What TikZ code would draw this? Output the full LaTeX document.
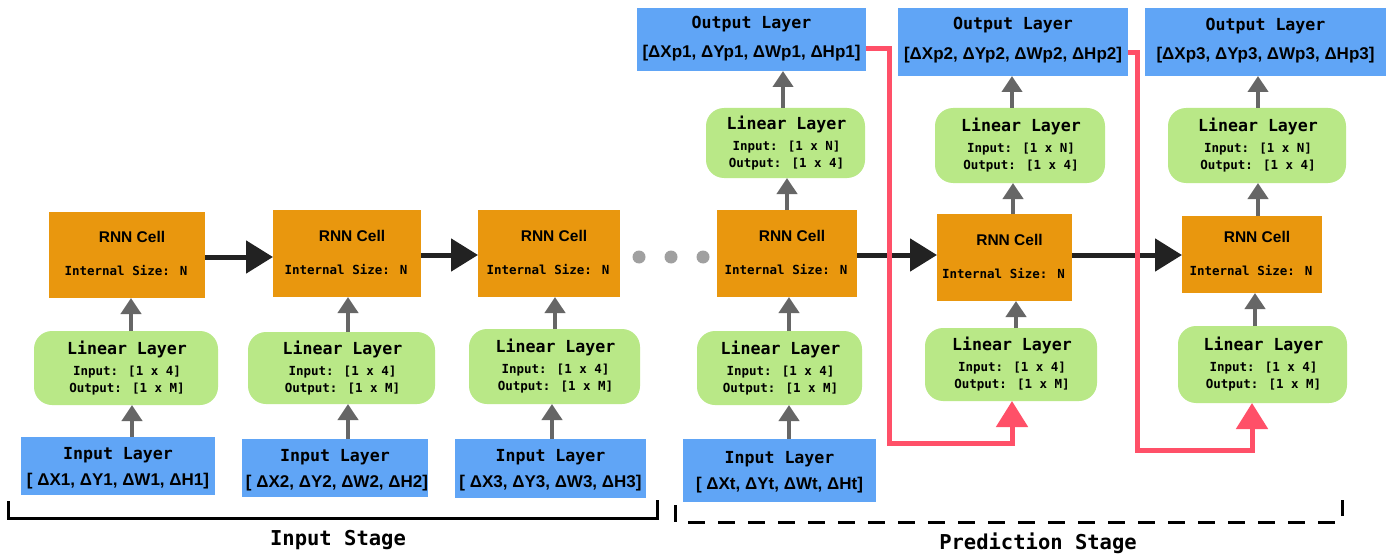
\documentclass[tikz,border=0pt]{standalone}
\usepackage{fontspec}
\setmainfont{Liberation Sans}
\newfontfamily\monof{DejaVu Sans Mono}
\usetikzlibrary{arrows.meta,calc}
\definecolor{rnnorange}{HTML}{E9970E}
\definecolor{lingreen}{HTML}{B9E887}
\definecolor{ioblue}{HTML}{60A5F6}
\definecolor{fbred}{HTML}{FF5068}
\definecolor{flowgray}{HTML}{666666}
\definecolor{darkarrow}{HTML}{222222}
\definecolor{dotgray}{HTML}{A0A0A0}
\tikzset{
  rnn/.style={fill=rnnorange, draw=none, inner sep=0pt, outer sep=0pt},
  lin/.style={fill=lingreen, draw=none, rounded corners=18pt, inner sep=0pt, outer sep=0pt},
  io/.style={fill=ioblue, draw=none, inner sep=0pt, outer sep=0pt},
  ttl/.style={font=\monof\bfseries\fontsize{16.6}{18}\selectfont, inner sep=0pt},
  sml/.style={font=\monof\bfseries\fontsize{12.5}{14}\selectfont, inner sep=0pt},
  rnnt/.style={font=\bfseries\fontsize{15.5}{17}\selectfont, inner sep=0pt},
  arrt/.style={font=\bfseries\fontsize{17}{19}\selectfont, inner sep=0pt},
  stagelbl/.style={font=\monof\bfseries\fontsize{20.5}{22}\selectfont, inner sep=0pt},
  gflow/.style={draw=flowgray, line width=4pt, -{Triangle[length=16pt,width=20pt]}},
  hflow/.style={draw=darkarrow, line width=5pt, -{Triangle[length=27pt,width=32pt]}},
  fb/.style={draw=fbred, line width=5pt, line join=miter, -{Triangle[length=26pt,width=31pt]}},
  brk/.style={draw=black, line width=3pt, line join=miter},
  dotc/.style={fill=dotgray, draw=none, circle, minimum size=13pt, inner sep=0pt},
}
\newcommand\rnnnode[5]{%
  \node[rnn, minimum width=#4pt, minimum height=#5pt] (#1) at (#2,#3) {};
  \node[rnnt] at ($(#1.center)+(5,-18)$) {RNN Cell};
  \node[sml] at ($(#1.center)+(-1,16)$) {Internal Size: N};
}
\newcommand\linnode[7]{%
  \node[lin, minimum width=#4pt, minimum height=#5pt] (#1) at (#2,#3) {};
  \node[ttl] at ($(#1.center)+(1,-19)$) {Linear Layer};
  \node[sml] at ($(#1.center)+(1,4)$) {#6};
  \node[sml] at ($(#1.center)+(1,21)$) {#7};
}
\newcommand\ionode[7]{%
  \node[io, minimum width=#4pt, minimum height=#5pt] (#1) at (#2,#3) {};
  \node[ttl] at ($(#1.center)+(0,#6)$) {#7};
}
\newcommand\vflow[3]{%
  \path (#3,0) coordinate (tmpx);
  \draw[gflow] (#1.north -| tmpx) -- (#2.south -| tmpx);
}
\begin{document}
\begin{tikzpicture}[x=1pt,y=-1pt]
\useasboundingbox (0,0) rectangle (1392,559);
\fill[white] (0,0) rectangle (1392,559);

% RNN cells
\rnnnode{r1}{127}{255}{156}{86}
\rnnnode{r2}{347}{253.5}{148}{87}
\rnnnode{r3}{549}{253.5}{142}{87}
\rnnnode{r4}{787}{253.5}{140}{87}
\rnnnode{r5}{1004.5}{257.5}{135}{87}
\rnnnode{r6}{1252}{254.5}{140}{77}

% lower linear layers
\linnode{l1}{126}{368}{184}{74}{Input: [1 x 4]}{Output: [1 x M]}
\linnode{l2}{341.5}{368}{187}{72}{Input: [1 x 4]}{Output: [1 x M]}
\linnode{l3}{554.5}{366.5}{171}{75}{Input: [1 x 4]}{Output: [1 x M]}
\linnode{l4}{779.5}{368}{165}{74}{Input: [1 x 4]}{Output: [1 x M]}
\linnode{l5}{1011}{364.5}{172}{73}{Input: [1 x 4]}{Output: [1 x M]}
\linnode{l6}{1262.5}{364.5}{169}{77}{Input: [1 x 4]}{Output: [1 x M]}

% upper linear layers
\linnode{u4}{785.5}{143}{159}{70}{Input: [1 x N]}{Output: [1 x 4]}
\linnode{u5}{1020}{145.5}{170}{75}{Input: [1 x N]}{Output: [1 x 4]}
\linnode{u6}{1257}{145.5}{178}{75}{Input: [1 x N]}{Output: [1 x 4]}

% input layers
\ionode{i1}{118}{466}{194}{58}{-11}{Input Layer}
\node[arrt] at ($(i1.center)+(0,15)$) {[ ΔX1, ΔY1, ΔW1, ΔH1]};
\ionode{i2}{335}{468}{186}{58}{-11}{Input Layer}
\node[arrt] at ($(i2.center)+(2,15)$) {[ ΔX2, ΔY2, ΔW2, ΔH2]};
\ionode{i3}{550.5}{468.5}{191}{59}{-11}{Input Layer}
\node[arrt] at ($(i3.center)+(0,15)$) {[ ΔX3, ΔY3, ΔW3, ΔH3]};
\ionode{i4}{779.5}{470.5}{193}{63}{-11}{Input Layer}
\node[arrt] at ($(i4.center)+(0,15)$) {[ ΔXt, ΔYt, ΔWt, ΔHt]};

% output layers
\ionode{o4}{751.5}{39.5}{229}{63}{-15}{Output Layer}
\node[arrt] at ($(o4.center)+(0,14)$) {[ΔXp1, ΔYp1, ΔWp1, ΔHp1]};
\ionode{o5}{1013}{42}{230}{68}{-17}{Output Layer}
\node[arrt] at ($(o5.center)+(0,13)$) {[ΔXp2, ΔYp2, ΔWp2, ΔHp2]};
\ionode{o6}{1265.5}{42}{241}{68}{-16}{Output Layer}
\node[arrt] at ($(o6.center)+(0,13)$) {[ΔXp3, ΔYp3, ΔWp3, ΔHp3]};

% vertical gray flows
\vflow{i1}{l1}{132}
\vflow{l1}{r1}{131}
\vflow{i2}{l2}{348}
\vflow{l2}{r2}{348}
\vflow{i3}{l3}{552}
\vflow{l3}{r3}{555}
\vflow{i4}{l4}{789}
\vflow{l4}{r4}{789}
\vflow{r4}{u4}{787}
\vflow{u4}{o4}{783}
\vflow{l5}{r5}{1016}
\vflow{r5}{u5}{1013}
\vflow{u5}{o5}{1012}
\vflow{l6}{r6}{1255}
\vflow{r6}{u6}{1258}
\vflow{u6}{o6}{1258}

% horizontal hidden-state flows
\coordinate (ya) at (0,257);
\coordinate (yb) at (0,255);
\draw[hflow] (r1.east |- ya) -- (r2.west |- ya);
\draw[hflow] (r2.east |- yb) -- (r3.west |- yb);
\draw[hflow] (r4.east |- yb) -- (r5.west |- yb);
\draw[hflow] (r5.east |- yb) -- (r6.west |- yb);

% dots
\node[dotc] (d1) at (639,257) {};
\node[dotc] (d2) at (671,257) {};
\node[dotc] (d3) at (703,257) {};

% feedback red connectors
\coordinate (f1a) at (889,49);
\coordinate (f1b) at (889,443);
\coordinate (f1c) at (1012,443);
\draw[fb] (o4.east |- f1a) -- (f1a) -- (f1b) -- (f1c) -- (l5.south -| f1c);
\coordinate (f2a) at (1137,53);
\coordinate (f2b) at (1137,450);
\coordinate (f2c) at (1252,450);
\draw[fb] (o5.east |- f2a) -- (f2a) -- (f2b) -- (f2c) -- (l6.south -| f2c);

% stage brackets
\draw[brk] (8,501) -- (8,518) -- (657,518) -- (657,500);
\draw[brk, dash pattern=on 17pt off 13pt] (675,505) -- (675,522) -- (1342,522) -- (1342,500);
\node[stagelbl] (s1) at (338,540) {Input Stage};
\node[stagelbl] (s2) at (1038,543) {Prediction Stage};
\end{tikzpicture}
\end{document}
